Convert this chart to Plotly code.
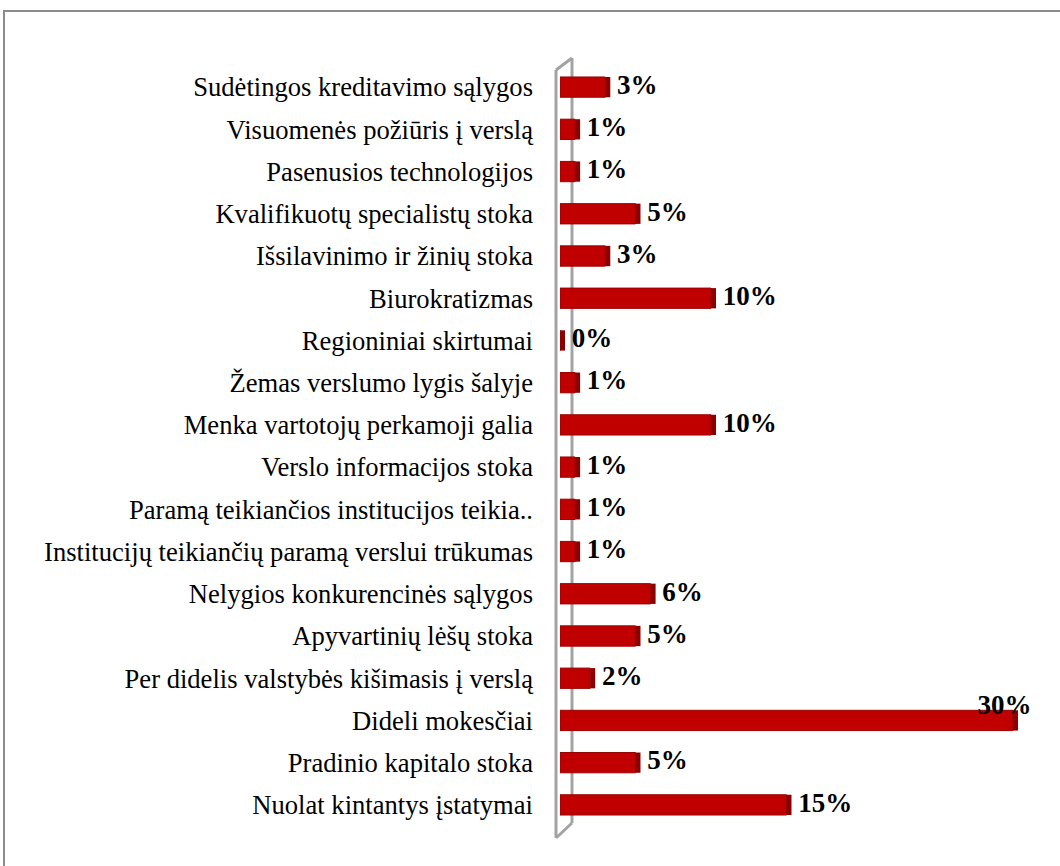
import plotly.graph_objects as go

categories = [
    "Sudėtingos kreditavimo sąlygos",
    "Visuomenės požiūris į verslą",
    "Pasenusios technologijos",
    "Kvalifikuotų specialistų stoka",
    "Išsilavinimo ir žinių stoka",
    "Biurokratizmas",
    "Regioniniai skirtumai",
    "Žemas verslumo lygis šalyje",
    "Menka vartotojų perkamoji galia",
    "Verslo informacijos stoka",
    "Paramą teikiančios institucijos teikia..",
    "Institucijų teikiančių paramą verslui trūkumas",
    "Nelygios konkurencinės sąlygos",
    "Apyvartinių lėšų stoka",
    "Per didelis valstybės kišimasis į verslą",
    "Dideli mokesčiai",
    "Pradinio kapitalo stoka",
    "Nuolat kintantys įstatymai",
]
values = [3, 1, 1, 5, 3, 10, 0, 1, 10, 1, 1, 1, 6, 5, 2, 30, 5, 15]
value_labels = ["3%", "1%", "1%", "5%", "3%", "10%", "0%", "1%", "10%", "1%",
                "1%", "1%", "6%", "5%", "2%", "30%", "5%", "15%"]

SERIF = "'Times New Roman', 'Liberation Serif', 'DejaVu Serif', serif"

W, H = 1060, 866
L, R, T, B = 560, 10, 66, 40
pw = W - L - R
ph = H - T - B
px_per_unit = 15.1
xmax = pw / px_per_unit
depth = 5 / px_per_unit  # 3D side face thickness (style)

def px(x):
    return (x - L) / pw

def py(y):
    return (H - B - y) / ph

NB = "\u00a0"
ends = [v + depth for v in values]
text_pos = ["top center" if v >= 25 else "middle right" for v in values]
texts = [(NB + t) if v < 25 else (t + NB * 4) for t, v in zip(value_labels, values)]

fig = go.Figure()
fig.add_trace(go.Bar(
    x=values, y=categories, orientation="h",
    marker=dict(color="#C00000", line=dict(color="#9A0000", width=1)),
    width=0.48, hoverinfo="skip",
))
fig.add_trace(go.Bar(
    x=[depth] * len(values), base=values, y=categories, orientation="h",
    marker=dict(color="#8B0000", line=dict(width=0)),
    width=0.48, hoverinfo="skip",
))
fig.add_trace(go.Scatter(
    x=ends, y=categories, mode="text", text=texts,
    textposition=text_pos,
    textfont=dict(family=SERIF, size=27, color="black", weight="bold"),
    cliponaxis=False, hoverinfo="skip",
))

gray = "#a3a3a3"
shapes = [
    dict(type="rect", xref="paper", yref="paper",
         x0=px(4), x1=px(1075), y0=py(880), y1=py(11),
         line=dict(color="#8c8c8c", width=2), layer="below"),
    dict(type="line", xref="paper", yref="paper", x0=px(556), x1=px(556),
         y0=py(70), y1=py(838), line=dict(color=gray, width=3), layer="below"),
    dict(type="line", xref="paper", yref="paper", x0=px(572), x1=px(572),
         y0=py(58), y1=py(823), line=dict(color=gray, width=3), layer="below"),
    dict(type="line", xref="paper", yref="paper", x0=px(556), x1=px(572),
         y0=py(70), y1=py(58), line=dict(color=gray, width=3), layer="below"),
    dict(type="line", xref="paper", yref="paper", x0=px(556), x1=px(572),
         y0=py(838), y1=py(823), line=dict(color=gray, width=3), layer="below"),
]

fig.update_layout(
    width=W, height=H,
    margin=dict(l=L, r=R, t=T, b=B, autoexpand=False),
    paper_bgcolor="white", plot_bgcolor="rgba(0,0,0,0)",
    showlegend=False, barmode="overlay",
    shapes=shapes,
    font=dict(family=SERIF),
    xaxis=dict(range=[0, xmax], showgrid=False, zeroline=False,
               showticklabels=False, ticks="", showline=False, fixedrange=True),
    yaxis=dict(categoryorder="array", categoryarray=categories,
               range=[len(categories) - 0.5, -0.5], showgrid=False,
               zeroline=False, ticks="", showline=False,
               ticklabelstandoff=26,
               tickfont=dict(family=SERIF, size=26.6, color="black"),
               fixedrange=True),
)

fig.write_html("out.html", config={"displayModeBar": False},
               post_script="document.body.style.margin='0';document.body.style.overflow='hidden';")
